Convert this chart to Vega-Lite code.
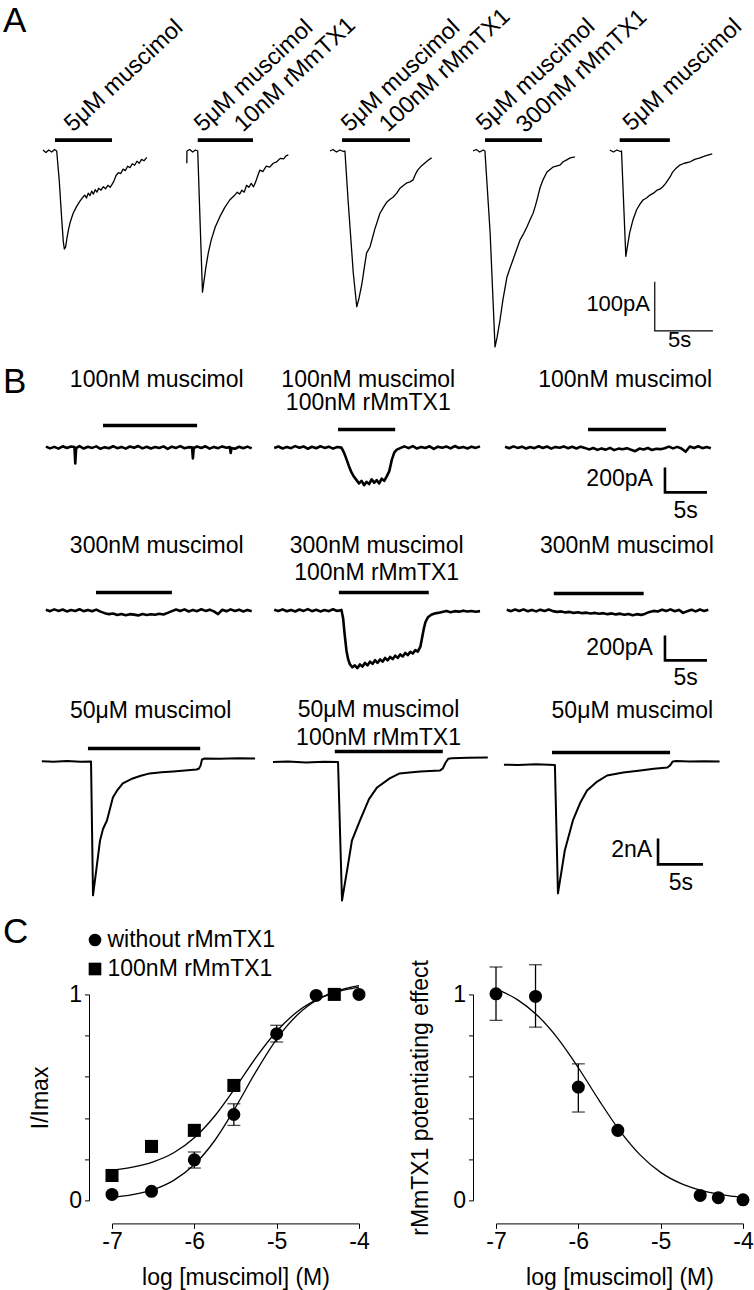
{
"$schema": "https://vega.github.io/schema/vega-lite/v6.json",
"autosize": {"type": "none"},
"padding": {"left": 40, "top": 131.4, "right": 714, "bottom": 1158.6},
"background": "white",
"config": {
  "view": {"stroke": null},
  "font": "Liberation Sans",
  "mark": {"color": "black"},
  "text": {"color": "black", "font": "Liberation Sans"},
  "axis": {"domainColor": "black", "tickColor": "black", "labelColor": "black", "titleColor": "black", "labelFontSize": 23, "titleFontSize": 23, "titleFontWeight": "normal", "grid": false, "labelFont": "Liberation Sans", "titleFont": "Liberation Sans", "domainWidth": 1, "tickWidth": 1, "labelFlush": false, "labelOverlap": false}
},
"datasets": {
  "tr": [
    {"p":"a1","t":[0,0.25,0.5,0.75,1,1.18,1.4,1.6,1.75,1.84,1.95,2.05,2.2,2.35,2.6,2.9,3.2,3.45,3.6,3.75,3.9,4.05,4.2,4.35,4.5,4.65,4.8,5,5.2,5.4,5.6,5.8,5.95,6.1,6.3,6.5,6.7,6.9,7.1,7.3,7.5,7.7,7.9,8.1,8.3,8.5,8.7,8.95],"i":[2,-3,2,-2,3,0,-60,-134,-185,-200,-196,-180,-160,-145,-127,-113,-102,-94,-90,-96,-86,-91,-82,-88,-79,-84,-76,-80,-73,-77,-70,-74,-68,-62,-50,-44,-46,-37,-40,-31,-34,-26,-29,-21,-25,-17,-20,-13]},
    {"p":"a2","t":[0.05,0.06,0.3,0.55,0.8,0.99,1.2,1.4,1.55,1.7,1.9,2.15,2.5,2.9,3.3,3.75,4.1,4.4,4.6,4.8,5,5.2,5.4,5.6,5.8,6,6.2,6.35,6.6,6.9,7.2,7.5,7.8,8.1,8.4,8.6,8.8],"i":[-25,0,3,-2,2,0,-150,-288,-262,-236,-208,-182,-155,-134,-116,-100,-92,-84,-88,-80,-84,-70,-74,-66,-73,-62,-48,-39,-42,-31,-33,-25,-22,-15,-16,-10,-8]},
    {"p":"a3","t":[0.04,0.3,0.6,0.9,1.2,1.33,1.6,2.05,2.35,2.55,2.8,3,3.2,3.49,3.9,4.35,4.65,4.95,5.2,5.5,5.8,6.08,6.4,6.68,6.95,7.2,7.4,7.6,7.9,8.2,8.5,8.8],"i":[0,3,-2,2,-1,0,-100,-249,-318,-300,-270,-238,-208,-196,-160,-127,-115,-104,-99,-94,-86,-76,-70,-65,-63,-59,-48,-39,-31,-25,-19,-14]},
    {"p":"a4","t":[0.02,0.3,0.6,0.9,1.05,1.5,1.92,2.1,2.35,2.6,2.95,3.2,3.47,3.8,4.07,4.4,4.67,4.95,5.2,5.4,5.6,5.8,6.05,6.4,6.9,7.2,7.5,7.8,8.1,8.4,8.8],"i":[0,3,-2,2,0,-168,-400,-380,-345,-304,-257,-240,-222,-200,-182,-168,-155,-140,-127,-112,-94,-75,-59,-43,-33,-31,-29,-22,-18,-14,-12]},
    {"p":"a5","t":[0,0.3,0.6,0.9,1,1.37,1.7,1.98,2.3,2.6,2.85,3.15,3.45,3.75,4.05,4.3,4.55,4.8,5,5.2,5.4,5.7,6,6.4,6.9,7.3,7.75,8.2,8.8],"i":[2,-2,2,-1,0,-215,-167,-141,-120,-108,-100,-96,-90,-86,-80,-78,-73,-66,-59,-52,-43,-35,-29,-25,-22,-17,-14,-10,-6]},
    {"p":"b1a","t":[0.7,1.2,1.7,2.2,2.7,3.2,3.7,4.1,4.2,4.3,4.7,5.2,5.7,6.2,6.7,7.2,7.7,8.2,8.7,9.2,9.7,10.2,10.7,11.2,11.7,12.2,12.7,13.2,13.7,14.2,14.7,15.2,15.7,16.2,16.7,17.2,17.7,18.1,18.2,18.3,18.7,19.2,19.7,20.2,20.7,21.2,21.7,22.2,22.6,22.7,22.8,23.2,23.7,24.2,24.7,25.2],"i":[6,-8,4,-10,9,-5,7,3,-128,-6,10,-9,5,-4,8,-11,2,-7,9,-6,4,-10,7,-3,11,-8,5,-9,3,-5,8,-12,6,-4,10,-7,2,0,-88,-5,7,-5,9,-10,4,-6,8,-3,2,-45,-6,-11,5,-7,6,-8]},
    {"p":"b1b","t":[0.5,1,1.5,2,2.5,3,3.5,4,4.5,5,5.5,6,6.5,7,7.5,8,8.5,8.8,9.1,9.4,9.7,10,10.3,10.6,10.9,11.2,11.5,11.8,12.1,12.4,12.7,13,13.3,13.6,13.9,14.2,14.5,14.8,15.1,15.5,16,16.5,17,17.5,18,18.5,19,19.5,20,20.5,21,21.5,22,22.5,23,23.5,24,24.5,25],"i":[-5,7,-9,4,-6,10,-3,8,-11,5,-7,9,-4,6,-10,3,-2,-40,-94,-150,-200,-235,-262,-288,-268,-302,-276,-294,-256,-283,-262,-288,-250,-268,-232,-190,-100,-40,-18,-6,8,-6,10,-9,4,-5,9,-12,6,-3,7,-8,11,-5,4,-9,6,-4,8]},
    {"p":"b1c","t":[0.6,1.1,1.6,2.1,2.6,3.1,3.6,4.1,4.6,5.1,5.6,6.1,6.6,7.1,7.6,8.1,8.6,9.1,9.6,10.1,10.6,11.1,11.6,12.1,12.6,13.1,13.6,14.1,14.6,15.1,15.6,16.1,16.6,17.1,17.6,18.1,18.6,19.1,19.6,20.1,20.6,21.1,21.6,22.1,22.6,23.1,23.6,24.1,24.6,25.1],"i":[5,-7,8,-4,6,-9,3,-6,9,-5,7,-10,4,-3,8,-7,5,-9,6,-4,-16,-5,-20,-8,-18,-4,-22,-10,-15,-6,-19,-30,-9,-17,-5,-21,-11,-14,-7,6,-8,4,-9,-35,7,-5,9,-6,3,-7]},
    {"p":"b2a","t":[0.7,1.2,1.7,2.2,2.7,3.2,3.7,4.2,4.7,5.2,5.7,6.2,6.7,7.2,7.7,8.2,8.7,9.2,9.7,10.2,10.7,11.2,11.7,12.2,12.7,13.2,13.7,14.2,14.7,15.2,15.7,16.2,16.7,17.2,17.7,18.2,18.7,19.2,19.7,20.2,20.7,21.2,21.7,22.2,22.7,23.2,23.7,24.2,24.7,25.2],"i":[5,-6,8,-4,7,-8,3,-5,9,-6,4,-7,6,-10,-22,-30,-25,-36,-28,-38,-30,-34,-40,-29,-37,-31,-35,-27,-33,-20,-6,7,-5,8,-9,4,-6,9,-4,6,-8,-30,5,-7,8,-5,6,-9,4,-6]},
    {"p":"b2b","t":[0.5,1,1.5,2,2.5,3,3.5,4,4.5,5,5.5,6,6.5,7,7.5,8,8.5,8.7,8.9,9.1,9.3,9.5,9.8,10.1,10.4,10.7,11,11.3,11.6,11.9,12.2,12.5,12.8,13.1,13.4,13.7,14,14.3,14.6,14.9,15.2,15.5,15.8,16.1,16.4,16.7,17,17.3,17.6,17.9,18.1,18.3,18.5,18.8,19.2,19.6,20,20.5,21,21.5,22,22.5,23,23.5,24,24.5,25],"i":[6,-5,8,-7,4,-9,7,-4,10,-6,5,-8,3,-6,9,-5,4,-60,-200,-320,-390,-430,-455,-440,-462,-432,-450,-420,-440,-410,-428,-398,-420,-392,-410,-380,-400,-372,-390,-362,-380,-352,-368,-340,-358,-332,-345,-318,-330,-290,-220,-150,-95,-55,-35,-25,-20,-12,-4,-14,-6,-10,-2,-9,-5,-11,-6]},
    {"p":"b2c","t":[0.8,1.3,1.8,2.3,2.8,3.3,3.8,4.3,4.8,5.3,5.8,6.3,6.8,7.3,7.8,8.3,8.8,9.3,9.8,10.3,10.8,11.3,11.8,12.3,12.8,13.3,13.8,14.3,14.8,15.3,15.8,16.3,16.8,17.3,17.8,18.3,18.8,19.3,19.8,20.3,20.8,21.3,21.8,22.3,22.8,23.3,23.8,24.3,24.8],"i":[5,-6,7,-5,8,-7,4,-8,6,-4,7,-6,-12,-8,-16,-12,-20,-15,-22,-18,-25,-20,-27,-22,-30,-24,-32,-26,-35,-28,-38,-30,-36,-26,-12,-4,-9,6,-5,8,-7,4,-20,-6,5,-8,7,-4,6]},
    {"p":"b3a","t":[0.2,1.5,3,4.5,5.67,5.89,6.28,6.67,7,7.44,8.1,8.6,9.2,10.3,11.2,12.2,13.5,14.8,16.1,17.4,17.67,17.85,18,18.3,20,22,23.9],"i":[0.02,-0.03,0.03,-0.02,0,-10.3,-8.2,-6.08,-5.2,-4.54,-2.77,-2.2,-1.69,-1.31,-1.1,-0.92,-0.84,-0.77,-0.7,-0.62,-0.54,-0.3,0.15,0.23,0.2,0.25,0.22]},
    {"p":"b3b","t":[0.33,2,4,6,7.56,8,8.56,9.1,10,11,11.9,13.3,14.4,15.5,16.7,17.8,18.9,19.2,19.5,19.8,20.2,22,24.2],"i":[-0.05,0,-0.08,-0.03,-0.05,-10.7,-8.4,-6.1,-4.54,-2.9,-2,-1.3,-0.92,-0.85,-0.77,-0.73,-0.69,-0.54,-0.1,0.2,0.25,0.28,0.3]},
    {"p":"b3c","t":[0.44,2,4,6.1,6.44,7.2,8.1,8.9,9.67,10.8,11.9,13.7,15.6,17.1,18.6,18.9,19.2,19.6,21,22.7,24.4],"i":[-0.25,-0.28,-0.22,-0.27,-10.15,-6.85,-4.54,-3.2,-2.23,-1.55,-1.08,-0.85,-0.69,-0.56,-0.46,-0.3,0,0.03,0,0.02,0]}
  ],
  "bar": [
    {"p":"a1","t":[1.03,5.95],"i":[22,22]},
    {"p":"a2","t":[0.99,5.75],"i":[22,22]},
    {"p":"a3","t":[1.08,6.94],"i":[22,22]},
    {"p":"a4","t":[1.06,5.97],"i":[22,22]},
    {"p":"a5","t":[0.84,5.16],"i":[22,22]},
    {"p":"b1a","t":[7.5,18.7],"i":[176,176]},
    {"p":"b1b","t":[8.1,14.9],"i":[144,144]},
    {"p":"b1c","t":[10.48,19.76],"i":[144,144]},
    {"p":"b2a","t":[6.67,15.7],"i":[144,144]},
    {"p":"b2b","t":[8.2,18.9],"i":[144,144]},
    {"p":"b2c","t":[6.4,17.1],"i":[136,136]},
    {"p":"b3a","t":[5.33,17.8],"i":[1.0,1.0]},
    {"p":"b3b","t":[7.2,19.2],"i":[0.77,0.77]},
    {"p":"b3c","t":[5.78,18.9],"i":[0.69,0.69]}
  ],
  "sb": [
    {"p":"a5","t":[3.86,3.86,8.86],"i":[-267,-367,-367]},
    {"p":"b1c","t":[19.64,19.64,24.64],"i":[-160,-360,-360]},
    {"p":"b2c","t":[19.64,19.64,24.64],"i":[-200,-400,-400]},
    {"p":"b3c","t":[17.56,17.56,22.56],"i":[-5.92,-7.92,-7.92]}
  ],
  "txt": [
    {"p":"a1","k":"let","t":-3.45,"i":243,"s":"A"},
    {"p":"a1","k":"rot","t":2.59,"i":37,"s":"5μM muscimol"},
    {"p":"a2","k":"rot","t":1.44,"i":37,"s":"5μM muscimol"},
    {"p":"a2","k":"rot","t":4.89,"i":37,"s":"10nM rMmTX1"},
    {"p":"a3","k":"rot","t":1.77,"i":37,"s":"5μM muscimol"},
    {"p":"a3","k":"rot","t":5.05,"i":37,"s":"100nM rMmTX1"},
    {"p":"a4","k":"rot","t":1.06,"i":39,"s":"5μM muscimol"},
    {"p":"a4","k":"rot","t":4.5,"i":35,"s":"300nM rMmTX1"},
    {"p":"a5","k":"rot","t":1.88,"i":39,"s":"5μM muscimol"},
    {"p":"a5","k":"sbl","t":3.45,"i":-312,"s":"100pA"},
    {"p":"a5","k":"sbb","t":6.0,"i":-400,"s":"5s"},
    {"p":"b1a","k":"let","t":-4.4,"i":432,"s":"B"},
    {"p":"b1a","k":"lab","t":13.9,"i":480,"s":"100nM muscimol"},
    {"p":"b1b","k":"lab","t":11.7,"i":484,"s":"100nM muscimol"},
    {"p":"b1b","k":"lab","t":11.7,"i":296,"s":"100nM rMmTX1"},
    {"p":"b1c","k":"lab","t":14.9,"i":480,"s":"100nM muscimol"},
    {"p":"b1c","k":"sbl","t":18.2,"i":-256,"s":"200pA"},
    {"p":"b1c","k":"sbb","t":22.1,"i":-568,"s":"5s"},
    {"p":"b2a","k":"lab","t":13.9,"i":456,"s":"300nM muscimol"},
    {"p":"b2b","k":"lab","t":12.7,"i":460,"s":"300nM muscimol"},
    {"p":"b2b","k":"lab","t":12.7,"i":240,"s":"100nM rMmTX1"},
    {"p":"b2c","k":"lab","t":15.1,"i":456,"s":"300nM muscimol"},
    {"p":"b2c","k":"sbl","t":18.2,"i":-300,"s":"200pA"},
    {"p":"b2c","k":"sbb","t":22.1,"i":-600,"s":"5s"},
    {"p":"b3a","k":"lab","t":12.3,"i":3.38,"s":"50μM muscimol"},
    {"p":"b3a","k":"let","t":-4.11,"i":-14.0,"s":"C"},
    {"p":"b3b","k":"lab","t":12.06,"i":3.45,"s":"50μM muscimol"},
    {"p":"b3b","k":"lab","t":12.06,"i":1.23,"s":"100nM rMmTX1"},
    {"p":"b3c","k":"lab","t":14.7,"i":3.38,"s":"50μM muscimol"},
    {"p":"b3c","k":"sbl","t":16.9,"i":-6.85,"s":"2nA"},
    {"p":"b3c","k":"sbb","t":20.1,"i":-9.92,"s":"5s"}
  ],
  "cpts": [
    {"plot":"L","g":"without rMmTX1","x":-7,"y":0.029},
    {"plot":"L","g":"without rMmTX1","x":-6.52,"y":0.044},
    {"plot":"L","g":"without rMmTX1","x":-6,"y":0.197,"lo":0.157,"hi":0.235},
    {"plot":"L","g":"without rMmTX1","x":-5.52,"y":0.417,"lo":0.364,"hi":0.469},
    {"plot":"L","g":"without rMmTX1","x":-5,"y":0.809,"lo":0.769,"hi":0.85},
    {"plot":"L","g":"without rMmTX1","x":-4.52,"y":0.995},
    {"plot":"L","g":"without rMmTX1","x":-4,"y":1.0},
    {"plot":"L","g":"100nM rMmTX1","x":-7,"y":0.121},
    {"plot":"L","g":"100nM rMmTX1","x":-6.52,"y":0.262},
    {"plot":"L","g":"100nM rMmTX1","x":-6,"y":0.34},
    {"plot":"L","g":"100nM rMmTX1","x":-5.52,"y":0.558},
    {"plot":"L","g":"100nM rMmTX1","x":-4.3,"y":1.0},
    {"plot":"R","g":"effect","x":-7,"y":1.003,"lo":0.874,"hi":1.133},
    {"plot":"R","g":"effect","x":-6.52,"y":0.99,"lo":0.841,"hi":1.144},
    {"plot":"R","g":"effect","x":-6,"y":0.55,"lo":0.429,"hi":0.663},
    {"plot":"R","g":"effect","x":-5.52,"y":0.34},
    {"plot":"R","g":"effect","x":-4.52,"y":0.024},
    {"plot":"R","g":"effect","x":-4.3,"y":0.013},
    {"plot":"R","g":"effect","x":-4,"y":0.003}
  ],
  "cfit": [
    {"plot":"L","g":"without rMmTX1","x":[-7,-6.75,-6.5,-6.25,-6,-5.75,-5.5,-5.25,-5,-4.75,-4.5,-4.25,-4],"y":[0.015,0.028,0.052,0.097,0.174,0.292,0.451,0.626,0.783,0.9,0.975,1.019,1.043]},
    {"plot":"L","g":"100nM rMmTX1","x":[-7,-6.75,-6.5,-6.25,-6,-5.75,-5.5,-5.25,-5,-4.75,-4.5,-4.25,-4],"y":[0.147,0.161,0.187,0.231,0.304,0.411,0.548,0.694,0.821,0.916,0.977,1.014,1.035]},
    {"plot":"R","g":"effect","x":[-7,-6.75,-6.5,-6.25,-6,-5.75,-5.5,-5.25,-5,-4.75,-4.5,-4.25,-4],"y":[1.027,0.977,0.899,0.787,0.644,0.487,0.34,0.221,0.136,0.081,0.047,0.027,0.015]}
  ]
},
"columns": 5,
"spacing": 0,
"bounds": "flush",
"concat": [
    {"width": 72, "height": 234,
     "encoding": {"x": {"field":"t","type":"quantitative","scale":{"domain":[-0.2586,5.948],"nice":false,"zero":false},"axis":null},
                  "y": {"field":"i","type":"quantitative","scale":{"domain":[-437.6,40],"nice":false,"zero":false},"axis":null}},
     "layer": [
       {"data":{"name":"tr"},"transform":[{"filter":"datum.p=='a1'"},{"flatten":["t","i"]}],"mark":{"type":"line","strokeWidth":1.3,"strokeJoin":"round"},"encoding":{"order":{"value":null}}},
       {"data":{"name":"bar"},"transform":[{"filter":"datum.p=='a1'"},{"flatten":["t","i"]}],"mark":{"type":"line","strokeWidth":3.8,"strokeCap":"butt"}},
       {"data":{"name":"txt"},"transform":[{"filter":"datum.p=='a1' && datum.k=='rot'"}],"mark":{"type":"text","align":"left","baseline":"alphabetic","angle":-43,"fontSize":23.5},"encoding":{"text":{"field":"s"}}},
       {"data":{"name":"txt"},"transform":[{"filter":"datum.p=='a1' && datum.k=='let'"}],"mark":{"type":"text","align":"left","baseline":"alphabetic","fontSize":35},"encoding":{"text":{"field":"s"}}}
     ]},
    {"width": 247, "height": 234,
     "encoding": {"x": {"field":"t","type":"quantitative","scale":{"domain":[-6.401,14.892],"nice":false,"zero":false},"axis":null},
                  "y": {"field":"i","type":"quantitative","scale":{"domain":[-437.6,40],"nice":false,"zero":false},"axis":null}},
     "layer": [
       {"data":{"name":"tr"},"transform":[{"filter":"datum.p=='a2'"},{"flatten":["t","i"]}],"mark":{"type":"line","strokeWidth":1.3,"strokeJoin":"round"},"encoding":{"order":{"value":null}}},
       {"data":{"name":"bar"},"transform":[{"filter":"datum.p=='a2'"},{"flatten":["t","i"]}],"mark":{"type":"line","strokeWidth":3.8,"strokeCap":"butt"}},
       {"data":{"name":"txt"},"transform":[{"filter":"datum.p=='a2' && datum.k=='rot'"}],"mark":{"type":"text","align":"left","baseline":"alphabetic","angle":-43,"fontSize":23.5},"encoding":{"text":{"field":"s"}}}
     ]},
    {"width": 137, "height": 234,
     "encoding": {"x": {"field":"t","type":"quantitative","scale":{"domain":[2.543,14.353],"nice":false,"zero":false},"axis":null},
                  "y": {"field":"i","type":"quantitative","scale":{"domain":[-437.6,40],"nice":false,"zero":false},"axis":null}},
     "layer": [
       {"data":{"name":"tr"},"transform":[{"filter":"datum.p=='a3'"},{"flatten":["t","i"]}],"mark":{"type":"line","strokeWidth":1.3,"strokeJoin":"round"},"encoding":{"order":{"value":null}}},
       {"data":{"name":"bar"},"transform":[{"filter":"datum.p=='a3'"},{"flatten":["t","i"]}],"mark":{"type":"line","strokeWidth":3.8,"strokeCap":"butt"}},
       {"data":{"name":"txt"},"transform":[{"filter":"datum.p=='a3' && datum.k=='rot'"}],"mark":{"type":"text","align":"left","baseline":"alphabetic","angle":-43,"fontSize":23.5},"encoding":{"text":{"field":"s"}}}
     ]},
    {"width": 247, "height": 234,
     "encoding": {"x": {"field":"t","type":"quantitative","scale":{"domain":[2.004,23.297],"nice":false,"zero":false},"axis":null},
                  "y": {"field":"i","type":"quantitative","scale":{"domain":[-437.6,40],"nice":false,"zero":false},"axis":null}},
     "layer": [
       {"data":{"name":"tr"},"transform":[{"filter":"datum.p=='a4'"},{"flatten":["t","i"]}],"mark":{"type":"line","strokeWidth":1.3,"strokeJoin":"round"},"encoding":{"order":{"value":null}}},
       {"data":{"name":"bar"},"transform":[{"filter":"datum.p=='a4'"},{"flatten":["t","i"]}],"mark":{"type":"line","strokeWidth":3.8,"strokeCap":"butt"}},
       {"data":{"name":"txt"},"transform":[{"filter":"datum.p=='a4' && datum.k=='rot'"}],"mark":{"type":"text","align":"left","baseline":"alphabetic","angle":-43,"fontSize":23.5},"encoding":{"text":{"field":"s"}}}
     ]},
    {"width": 1, "height": 234,
     "encoding": {"x": {"field":"t","type":"quantitative","scale":{"domain":[11.448,11.534],"nice":false,"zero":false},"axis":null},
                  "y": {"field":"i","type":"quantitative","scale":{"domain":[-437.6,40],"nice":false,"zero":false},"axis":null}},
     "layer": [
       {"data":{"name":"tr"},"transform":[{"filter":"datum.p=='a5'"},{"flatten":["t","i"]}],"mark":{"type":"line","strokeWidth":1.3,"strokeJoin":"round"},"encoding":{"order":{"value":null}}},
       {"data":{"name":"bar"},"transform":[{"filter":"datum.p=='a5'"},{"flatten":["t","i"]}],"mark":{"type":"line","strokeWidth":3.8,"strokeCap":"butt"}},
       {"data":{"name":"txt"},"transform":[{"filter":"datum.p=='a5' && datum.k=='rot'"}],"mark":{"type":"text","align":"left","baseline":"alphabetic","angle":-43,"fontSize":23.5},"encoding":{"text":{"field":"s"}}},
       {"data":{"name":"sb"},"transform":[{"filter":"datum.p=='a5'"},{"flatten":["t","i"]}],"mark":{"type":"line","strokeWidth":1.2},"encoding":{"order":{"value":null}}},
       {"data":{"name":"txt"},"transform":[{"filter":"datum.p=='a5' && datum.k=='sbl'"}],"mark":{"type":"text","align":"right","baseline":"middle","fontSize":22},"encoding":{"text":{"field":"s"}}},
       {"data":{"name":"txt"},"transform":[{"filter":"datum.p=='a5' && datum.k=='sbb'"}],"mark":{"type":"text","align":"center","baseline":"alphabetic","fontSize":22},"encoding":{"text":{"field":"s"}}}
     ]},

    {"width": 72, "height": 165,
     "encoding": {"x": {"field":"t","type":"quantitative","scale":{"domain":[0,8.571],"nice":false,"zero":false},"axis":null},
                  "y": {"field":"i","type":"quantitative","scale":{"domain":[-664,656],"nice":false,"zero":false},"axis":null}},
     "layer": [
       {"data":{"name":"tr"},"transform":[{"filter":"datum.p=='b1a'"},{"flatten":["t","i"]}],"mark":{"type":"line","strokeWidth":2.6,"strokeJoin":"round"},"encoding":{"order":{"value":null}}},
       {"data":{"name":"bar"},"transform":[{"filter":"datum.p=='b1a'"},{"flatten":["t","i"]}],"mark":{"type":"line","strokeWidth":3.5,"strokeCap":"butt"}},
       {"data":{"name":"txt"},"transform":[{"filter":"datum.p=='b1a' && datum.k=='lab'"}],"mark":{"type":"text","align":"center","baseline":"alphabetic","fontSize":23},"encoding":{"text":{"field":"s"}}},
       {"data":{"name":"txt"},"transform":[{"filter":"datum.p=='b1a' && datum.k=='let'"}],"mark":{"type":"text","align":"left","baseline":"alphabetic","fontSize":35},"encoding":{"text":{"field":"s"}}}
     ]},
    {"width": 247, "height": 165,
     "encoding": {"x": {"field":"t","type":"quantitative","scale":{"domain":[-18.81,10.595],"nice":false,"zero":false},"axis":null},
                  "y": {"field":"i","type":"quantitative","scale":{"domain":[-664,656],"nice":false,"zero":false},"axis":null}},
     "layer": [
       {"data":{"name":"tr"},"transform":[{"filter":"datum.p=='b1b'"},{"flatten":["t","i"]}],"mark":{"type":"line","strokeWidth":2.6,"strokeJoin":"round"},"encoding":{"order":{"value":null}}},
       {"data":{"name":"bar"},"transform":[{"filter":"datum.p=='b1b'"},{"flatten":["t","i"]}],"mark":{"type":"line","strokeWidth":3.5,"strokeCap":"butt"}},
       {"data":{"name":"txt"},"transform":[{"filter":"datum.p=='b1b' && datum.k=='lab'"}],"mark":{"type":"text","align":"center","baseline":"alphabetic","fontSize":23},"encoding":{"text":{"field":"s"}}}
     ]},
    {"width": 137, "height": 165, "data": {"values": []}, "mark": "point"},
    {"width": 247, "height": 165,
     "encoding": {"x": {"field":"t","type":"quantitative","scale":{"domain":[-0.476,28.929],"nice":false,"zero":false},"axis":null},
                  "y": {"field":"i","type":"quantitative","scale":{"domain":[-664,656],"nice":false,"zero":false},"axis":null}},
     "layer": [
       {"data":{"name":"tr"},"transform":[{"filter":"datum.p=='b1c'"},{"flatten":["t","i"]}],"mark":{"type":"line","strokeWidth":2.6,"strokeJoin":"round"},"encoding":{"order":{"value":null}}},
       {"data":{"name":"bar"},"transform":[{"filter":"datum.p=='b1c'"},{"flatten":["t","i"]}],"mark":{"type":"line","strokeWidth":3.5,"strokeCap":"butt"}},
       {"data":{"name":"txt"},"transform":[{"filter":"datum.p=='b1c' && datum.k=='lab'"}],"mark":{"type":"text","align":"center","baseline":"alphabetic","fontSize":23},"encoding":{"text":{"field":"s"}}},
       {"data":{"name":"sb"},"transform":[{"filter":"datum.p=='b1c'"},{"flatten":["t","i"]}],"mark":{"type":"line","strokeWidth":2.6},"encoding":{"order":{"value":null}}},
       {"data":{"name":"txt"},"transform":[{"filter":"datum.p=='b1c' && datum.k=='sbl'"}],"mark":{"type":"text","align":"right","baseline":"middle","fontSize":23},"encoding":{"text":{"field":"s"}}},
       {"data":{"name":"txt"},"transform":[{"filter":"datum.p=='b1c' && datum.k=='sbb'"}],"mark":{"type":"text","align":"center","baseline":"alphabetic","fontSize":23},"encoding":{"text":{"field":"s"}}}
     ]},
    {"width": 1, "height": 165, "data": {"values": []}, "mark": "point"},

    {"width": 72, "height": 165,
     "encoding": {"x": {"field":"t","type":"quantitative","scale":{"domain":[0,8.571],"nice":false,"zero":false},"axis":null},
                  "y": {"field":"i","type":"quantitative","scale":{"domain":[-680,640],"nice":false,"zero":false},"axis":null}},
     "layer": [
       {"data":{"name":"tr"},"transform":[{"filter":"datum.p=='b2a'"},{"flatten":["t","i"]}],"mark":{"type":"line","strokeWidth":2.6,"strokeJoin":"round"},"encoding":{"order":{"value":null}}},
       {"data":{"name":"bar"},"transform":[{"filter":"datum.p=='b2a'"},{"flatten":["t","i"]}],"mark":{"type":"line","strokeWidth":3.5,"strokeCap":"butt"}},
       {"data":{"name":"txt"},"transform":[{"filter":"datum.p=='b2a' && datum.k=='lab'"}],"mark":{"type":"text","align":"center","baseline":"alphabetic","fontSize":23},"encoding":{"text":{"field":"s"}}}
     ]},
    {"width": 247, "height": 165,
     "encoding": {"x": {"field":"t","type":"quantitative","scale":{"domain":[-18.81,10.595],"nice":false,"zero":false},"axis":null},
                  "y": {"field":"i","type":"quantitative","scale":{"domain":[-680,640],"nice":false,"zero":false},"axis":null}},
     "layer": [
       {"data":{"name":"tr"},"transform":[{"filter":"datum.p=='b2b'"},{"flatten":["t","i"]}],"mark":{"type":"line","strokeWidth":2.6,"strokeJoin":"round"},"encoding":{"order":{"value":null}}},
       {"data":{"name":"bar"},"transform":[{"filter":"datum.p=='b2b'"},{"flatten":["t","i"]}],"mark":{"type":"line","strokeWidth":3.5,"strokeCap":"butt"}},
       {"data":{"name":"txt"},"transform":[{"filter":"datum.p=='b2b' && datum.k=='lab'"}],"mark":{"type":"text","align":"center","baseline":"alphabetic","fontSize":23},"encoding":{"text":{"field":"s"}}}
     ]},
    {"width": 137, "height": 165, "data": {"values": []}, "mark": "point"},
    {"width": 247, "height": 165,
     "encoding": {"x": {"field":"t","type":"quantitative","scale":{"domain":[-0.476,28.929],"nice":false,"zero":false},"axis":null},
                  "y": {"field":"i","type":"quantitative","scale":{"domain":[-680,640],"nice":false,"zero":false},"axis":null}},
     "layer": [
       {"data":{"name":"tr"},"transform":[{"filter":"datum.p=='b2c'"},{"flatten":["t","i"]}],"mark":{"type":"line","strokeWidth":2.6,"strokeJoin":"round"},"encoding":{"order":{"value":null}}},
       {"data":{"name":"bar"},"transform":[{"filter":"datum.p=='b2c'"},{"flatten":["t","i"]}],"mark":{"type":"line","strokeWidth":3.5,"strokeCap":"butt"}},
       {"data":{"name":"txt"},"transform":[{"filter":"datum.p=='b2c' && datum.k=='lab'"}],"mark":{"type":"text","align":"center","baseline":"alphabetic","fontSize":23},"encoding":{"text":{"field":"s"}}},
       {"data":{"name":"sb"},"transform":[{"filter":"datum.p=='b2c'"},{"flatten":["t","i"]}],"mark":{"type":"line","strokeWidth":2.6},"encoding":{"order":{"value":null}}},
       {"data":{"name":"txt"},"transform":[{"filter":"datum.p=='b2c' && datum.k=='sbl'"}],"mark":{"type":"text","align":"right","baseline":"middle","fontSize":23},"encoding":{"text":{"field":"s"}}},
       {"data":{"name":"txt"},"transform":[{"filter":"datum.p=='b2c' && datum.k=='sbb'"}],"mark":{"type":"text","align":"center","baseline":"alphabetic","fontSize":23},"encoding":{"text":{"field":"s"}}}
     ]},
    {"width": 1, "height": 165, "data": {"values": []}, "mark": "point"},

    {"width": 72, "height": 299,
     "encoding": {"x": {"field":"t","type":"quantitative","scale":{"domain":[0,8.0],"nice":false,"zero":false},"axis":null},
                  "y": {"field":"i","type":"quantitative","scale":{"domain":[-17.92,5.08],"nice":false,"zero":false},"axis":null}},
     "layer": [
       {"data":{"name":"tr"},"transform":[{"filter":"datum.p=='b3a'"},{"flatten":["t","i"]}],"mark":{"type":"line","strokeWidth":2,"strokeJoin":"round"},"encoding":{"order":{"value":null}}},
       {"data":{"name":"bar"},"transform":[{"filter":"datum.p=='b3a'"},{"flatten":["t","i"]}],"mark":{"type":"line","strokeWidth":3.5,"strokeCap":"butt"}},
       {"data":{"name":"txt"},"transform":[{"filter":"datum.p=='b3a' && datum.k=='lab'"}],"mark":{"type":"text","align":"center","baseline":"alphabetic","fontSize":23},"encoding":{"text":{"field":"s"}}},
       {"data":{"name":"txt"},"transform":[{"filter":"datum.p=='b3a' && datum.k=='let'"}],"mark":{"type":"text","align":"left","baseline":"alphabetic","fontSize":35},"encoding":{"text":{"field":"s"}}}
     ]},
    {"width": 247, "height": 299,
     "encoding": {"x": {"field":"t","type":"quantitative","scale":{"domain":[-17.556,9.889],"nice":false,"zero":false},"axis":null},
                  "y": {"field":"i","type":"quantitative","scale":{"domain":[-17.92,5.08],"nice":false,"zero":false},"axis":null}},
     "layer": [
       {"data":{"name":"tr"},"transform":[{"filter":"datum.p=='b3b'"},{"flatten":["t","i"]}],"mark":{"type":"line","strokeWidth":2,"strokeJoin":"round"},"encoding":{"order":{"value":null}}},
       {"data":{"name":"bar"},"transform":[{"filter":"datum.p=='b3b'"},{"flatten":["t","i"]}],"mark":{"type":"line","strokeWidth":3.5,"strokeCap":"butt"}},
       {"data":{"name":"txt"},"transform":[{"filter":"datum.p=='b3b' && datum.k=='lab'"}],"mark":{"type":"text","align":"center","baseline":"alphabetic","fontSize":23},"encoding":{"text":{"field":"s"}}}
     ]},
    {"width": 137, "height": 299, "data": {"values": []}, "mark": "point"},
    {"width": 247, "height": 299,
     "encoding": {"x": {"field":"t","type":"quantitative","scale":{"domain":[-0.444,27.0],"nice":false,"zero":false},"axis":null},
                  "y": {"field":"i","type":"quantitative","scale":{"domain":[-17.92,5.08],"nice":false,"zero":false},"axis":null}},
     "layer": [
       {"data":{"name":"tr"},"transform":[{"filter":"datum.p=='b3c'"},{"flatten":["t","i"]}],"mark":{"type":"line","strokeWidth":2,"strokeJoin":"round"},"encoding":{"order":{"value":null}}},
       {"data":{"name":"bar"},"transform":[{"filter":"datum.p=='b3c'"},{"flatten":["t","i"]}],"mark":{"type":"line","strokeWidth":3.5,"strokeCap":"butt"}},
       {"data":{"name":"txt"},"transform":[{"filter":"datum.p=='b3c' && datum.k=='lab'"}],"mark":{"type":"text","align":"center","baseline":"alphabetic","fontSize":23},"encoding":{"text":{"field":"s"}}},
       {"data":{"name":"sb"},"transform":[{"filter":"datum.p=='b3c'"},{"flatten":["t","i"]}],"mark":{"type":"line","strokeWidth":2.6},"encoding":{"order":{"value":null}}},
       {"data":{"name":"txt"},"transform":[{"filter":"datum.p=='b3c' && datum.k=='sbl'"}],"mark":{"type":"text","align":"right","baseline":"middle","fontSize":23},"encoding":{"text":{"field":"s"}}},
       {"data":{"name":"txt"},"transform":[{"filter":"datum.p=='b3c' && datum.k=='sbb'"}],"mark":{"type":"text","align":"center","baseline":"alphabetic","fontSize":23},"encoding":{"text":{"field":"s"}}}
     ]},
    {"width": 1, "height": 299, "data": {"values": []}, "mark": "point"},

    {"width": 72, "height": 206, "data": {"values": []}, "mark": "point"},
    {"width": 247, "height": 206,
     "encoding": {
       "x": {"field":"x","type":"quantitative","scale":{"domain":[-7,-4],"nice":false,"zero":false},
             "axis":{"values":[-7,-6,-5,-4],"labelExpr":"'' + datum.value","title":"log [muscimol] (M)","offset":23,"tickSize":5,"labelPadding":2,"titlePadding":13}},
       "y": {"field":"y","type":"quantitative","scale":{"domain":[0,1],"nice":false,"zero":false},
             "axis":{"values":[0,0.2,0.4,0.6,0.8,1],"labelExpr":"datum.value == 0 || datum.value == 1 ? '' + datum.value : ''","title":"I/Imax","offset":23,"tickSize":4.5,"labelPadding":3,"titlePadding":16}}
     },
     "layer": [
       {"data":{"name":"cfit"},"transform":[{"filter":"datum.plot=='L'"},{"flatten":["x","y"]}],"mark":{"type":"line","strokeWidth":1.3,"interpolate":"monotone"},"encoding":{"detail":{"field":"g"}}},
       {"data":{"name":"cpts"},"transform":[{"filter":"datum.plot=='L' && isValid(datum.lo)"}],"mark":{"type":"rule","strokeWidth":1.3},"encoding":{"y":{"field":"lo","type":"quantitative"},"y2":{"field":"hi"}}},
       {"data":{"name":"cpts"},"transform":[{"filter":"datum.plot=='L' && isValid(datum.lo)"}],"mark":{"type":"tick","orient":"horizontal","size":13,"thickness":1.3},"encoding":{"y":{"field":"lo","type":"quantitative"}}},
       {"data":{"name":"cpts"},"transform":[{"filter":"datum.plot=='L' && isValid(datum.hi)"}],"mark":{"type":"tick","orient":"horizontal","size":13,"thickness":1.3},"encoding":{"y":{"field":"hi","type":"quantitative"}}},
       {"data":{"name":"cpts"},"transform":[{"filter":"datum.plot=='L'"}],"mark":{"type":"point","filled":true,"size":170,"opacity":1},
        "encoding":{"shape":{"field":"g","type":"nominal","scale":{"domain":["without rMmTX1","100nM rMmTX1"],"range":["circle","square"]},
          "legend":{"orient":"none","legendX":43.5,"legendY":797.1,"title":null,"labelFontSize":23,"labelFont":"Liberation Sans","labelColor":"black","labelLimit":400,"symbolSize":160,"symbolFillColor":"black","symbolStrokeColor":"black","symbolStrokeWidth":0,"labelOffset":1,"rowPadding":5,"padding":0}}}}
     ]},
    {"width": 137, "height": 206, "data": {"values": []}, "mark": "point"},
    {"width": 247, "height": 206,
     "encoding": {
       "x": {"field":"x","type":"quantitative","scale":{"domain":[-7,-4],"nice":false,"zero":false},
             "axis":{"values":[-7,-6,-5,-4],"labelExpr":"'' + datum.value","title":"log [muscimol] (M)","offset":23,"tickSize":5,"labelPadding":2,"titlePadding":13}},
       "y": {"field":"y","type":"quantitative","scale":{"domain":[0,1],"nice":false,"zero":false},
             "axis":{"values":[0,0.2,0.4,0.6,0.8,1],"labelExpr":"datum.value == 0 || datum.value == 1 ? '' + datum.value : ''","title":"rMmTX1 potentiating effect","offset":23,"tickSize":4.5,"labelPadding":3,"titlePadding":20}}
     },
     "layer": [
       {"data":{"name":"cfit"},"transform":[{"filter":"datum.plot=='R'"},{"flatten":["x","y"]}],"mark":{"type":"line","strokeWidth":1.3,"interpolate":"monotone"}},
       {"data":{"name":"cpts"},"transform":[{"filter":"datum.plot=='R' && isValid(datum.lo)"}],"mark":{"type":"rule","strokeWidth":1.3},"encoding":{"y":{"field":"lo","type":"quantitative"},"y2":{"field":"hi"}}},
       {"data":{"name":"cpts"},"transform":[{"filter":"datum.plot=='R' && isValid(datum.lo)"}],"mark":{"type":"tick","orient":"horizontal","size":13,"thickness":1.3},"encoding":{"y":{"field":"lo","type":"quantitative"}}},
       {"data":{"name":"cpts"},"transform":[{"filter":"datum.plot=='R' && isValid(datum.hi)"}],"mark":{"type":"tick","orient":"horizontal","size":13,"thickness":1.3},"encoding":{"y":{"field":"hi","type":"quantitative"}}},
       {"data":{"name":"cpts"},"transform":[{"filter":"datum.plot=='R'"}],"mark":{"type":"point","filled":true,"size":170,"opacity":1,"shape":"circle"}}
     ]},
    {"width": 1, "height": 206, "data": {"values": []}, "mark": "point"}
]
}
